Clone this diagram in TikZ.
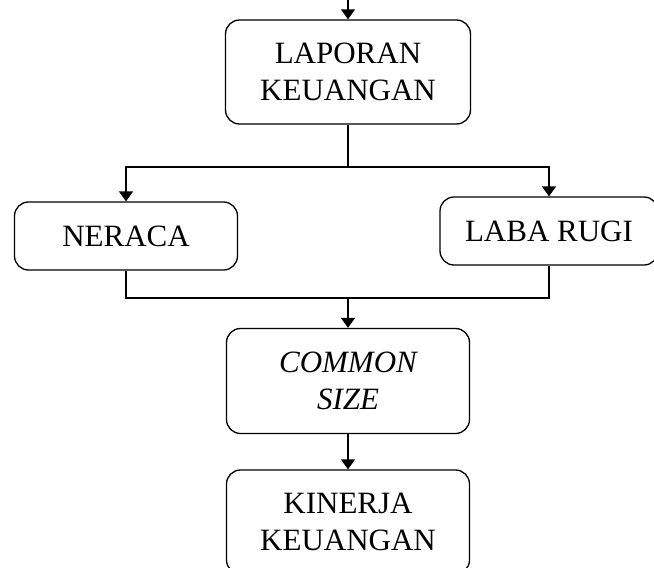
\documentclass[tikz,border=0pt]{standalone}
\usepackage{fontspec}
\setmainfont{Liberation Serif}
\usetikzlibrary{arrows.meta}

\tikzset{
  box/.style={draw, rounded corners=14pt, align=center, line width=1.3pt,
    font=\fontsize{31}{37}\selectfont, inner sep=0pt},
  arr/.style={-{Triangle[width=14pt,length=10pt]}, line width=1.3pt},
  link/.style={line width=1.3pt}
}

\begin{document}
\begin{tikzpicture}
  [x=1pt,y=1pt]
  \useasboundingbox (0,0) rectangle (654,-568);
  \node[box, minimum width=245pt, minimum height=104pt] (lapkeu) at (348,-72) {LAPORAN\\KEUANGAN};
  \node[box, minimum width=223pt, minimum height=68pt] (neraca) at (126,-236) {NERACA};
  \node[box, minimum width=218pt, minimum height=68pt] (labarugi) at (549,-231) {LABA RUGI};
  \node[box, minimum width=243pt, minimum height=105pt] (common) at (348,-381) {\itshape COMMON\\\itshape SIZE};
  \node[box, minimum width=243pt, minimum height=104pt] (kinerja) at (348,-522) {KINERJA\\KEUANGAN};
  \coordinate (top) at (348,0);
  \coordinate (split) at (348,-167);
  \coordinate (join) at (348,-298);
  \foreach \from/\to in {top/lapkeu, join/common, common/kinerja}
    \draw[arr] (\from) -- (\to);
  \draw[link] (lapkeu) -- (split);
  \draw[arr] (split) -| (neraca);
  \draw[arr] (split) -| (labarugi);
  \draw[link] (neraca) |- (join) -| (labarugi);
\end{tikzpicture}
\end{document}
